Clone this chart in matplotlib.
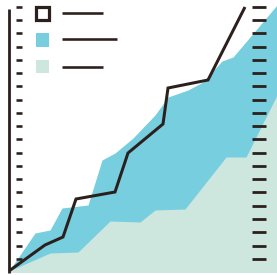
import numpy as np
import matplotlib
matplotlib.use("Agg")
import matplotlib.pyplot as plt
from matplotlib.patches import Rectangle

# ---- data (x position, height above baseline) ----
line_x = [9, 45, 63, 76, 115, 128, 163, 168, 208, 245]
line_y = [4, 30, 38, 76, 83, 122, 151, 187, 195, 268]

blue_x = [9, 35, 50, 62, 88, 102, 115, 133, 155, 168, 188, 203, 210, 222, 233, 250, 277]
blue_y = [4, 42, 45, 67, 70, 115, 122, 137, 160, 178, 185, 193, 201, 214, 218, 238, 270]

green_x = [9, 50, 78, 110, 140, 155, 185, 226, 246, 277]
green_y = [4, 22, 23, 54, 53, 65, 66, 118, 118, 180]

DARK = "#2b201d"
BLUE = "#77cedf"
GREEN = "#cde6de"

W, H = 277, 275
fig = plt.figure(figsize=(W / 100, H / 100), dpi=100)
ax = fig.add_axes([0, 0, 1, 1])
ax.set_xlim(0, W)
ax.set_ylim(0, H)
ax.axis("off")

px = 0.72  # points per pixel
base = 2.5

ax.fill_between(blue_x, base, blue_y, color=BLUE, lw=0, zorder=1)
ax.fill_between(green_x, base, green_y, color=GREEN, lw=0, zorder=2)

# left axis line
ax.plot([8.7, 8.7], [base, H - 9], color=DARK, lw=2.8 * px, solid_capstyle="butt", zorder=4)

# tick dashes
tick_h = H - np.linspace(6.7, 258.8, 20)
ax.hlines(tick_h, 16, 22, color=DARK, lw=2.6 * px, zorder=4)
ax.hlines(tick_h, 252, 266, color=DARK, lw=2.8 * px, zorder=4)

# main line
ax.plot(line_x, line_y, color=DARK, lw=3.0 * px, solid_joinstyle="miter",
        solid_capstyle="butt", zorder=5)

# legend
ax.add_patch(Rectangle((36, H - 20), 13, 13, facecolor="white", edgecolor=DARK,
                       lw=3.2 * px, zorder=6))
ax.add_patch(Rectangle((35.7, H - 46.7), 13.6, 13.4, facecolor=BLUE, lw=0, zorder=6))
ax.add_patch(Rectangle((35.7, H - 73.3), 13.6, 13.3, facecolor=GREEN, lw=0, zorder=6))
ax.hlines([H - 13.3], 62.3, 102.7, color=DARK, lw=2.6 * px, zorder=6)
ax.hlines([H - 39.3], 62.3, 116.7, color=DARK, lw=2.6 * px, zorder=6)
ax.hlines([H - 66.7], 62.3, 102.7, color=DARK, lw=2.6 * px, zorder=6)

fig.savefig("out.png", dpi=100, facecolor="white")
